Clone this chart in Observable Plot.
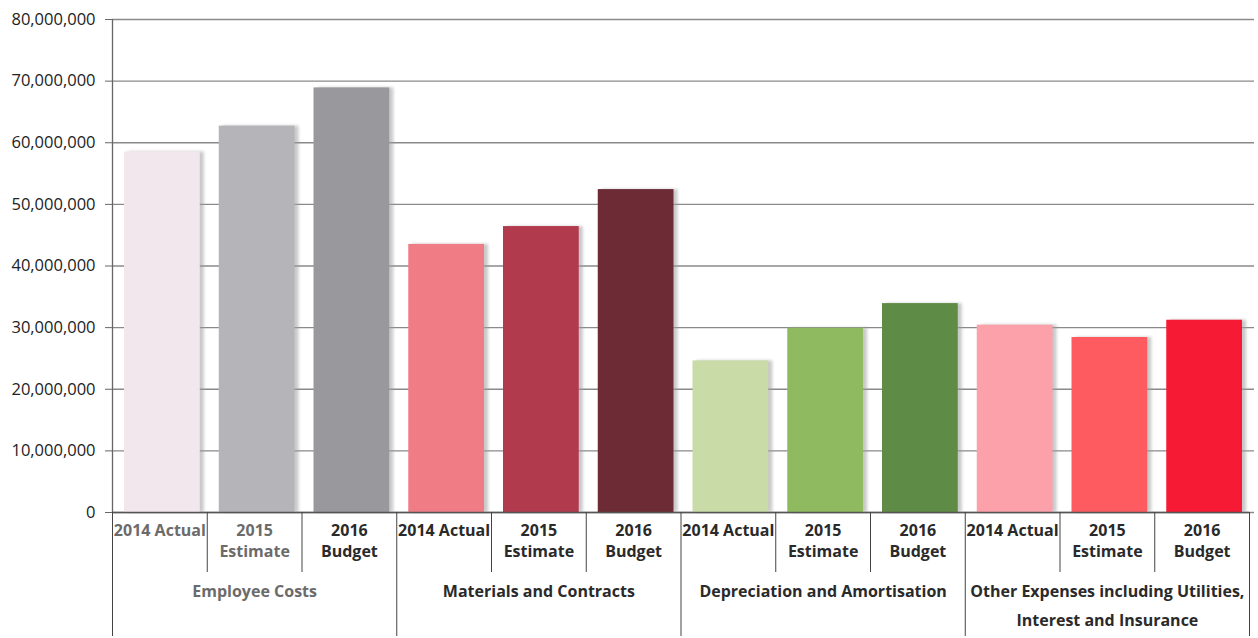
<!DOCTYPE html>
<html>
<head>
<meta charset="utf-8">
<script src="https://cdn.jsdelivr.net/npm/d3@7"></script>
<script src="https://cdn.jsdelivr.net/npm/@observablehq/plot@0.6"></script>
<style>
  html, body { margin: 0; padding: 0; background: #ffffff; }
  #chart svg { display: block; }
</style>
</head>
<body>
<div id="chart"></div>
<script>
// ---- data ----
const groups = [
  "Employee Costs",
  "Materials and Contracts",
  "Depreciation and Amortisation",
  "Other Expenses including Utilities,\nInterest and Insurance"
];
const yearLabels = ["2014 Actual", "2015\nEstimate", "2016\nBudget"];
const employeeCosts = [58500000, 62700000, 68900000];
const materialsContracts = [43500000, 46400000, 52400000];
const depreciationAmortisation = [24600000, 29900000, 33900000];
const otherExpenses = [30400000, 28400000, 31200000];
const yTicks = [0, 10000000, 20000000, 30000000, 40000000, 50000000, 60000000, 70000000, 80000000];

// palette (one colour per bar)
const barColors = [
  "#f3e7ee", "#b5b4b8", "#99989c",
  "#f07d86", "#b13a4d", "#6c2b35",
  "#c9dca8", "#8fba60", "#5e8c46",
  "#fca0aa", "#fe5b60", "#f61a35"
];

// ---- table built from the arrays ----
const series = [employeeCosts, materialsContracts, depreciationAmortisation, otherExpenses];
const rows = series.flatMap((vals, g) =>
  vals.map((v, k) => ({group: g, year: k, slot: g * yearLabels.length + k, value: v}))
);
const nSlots = rows.length;
const groupEdges = d3.range(0, nSlots + 1, yearLabels.length);
const innerEdges = d3.range(1, nSlots).filter(i => i % yearLabels.length !== 0);

const dark = "#2a2a2a";
const grey = "#6b6b6b";

const chart = Plot.plot({
  width: 1258,
  height: 638,
  marginLeft: 112,
  marginRight: 9,
  marginTop: 19,
  marginBottom: 126,
  style: {fontFamily: "'Open Sans', sans-serif", fontSize: "16px", color: "#222", background: "#fff"},
  x: {type: "linear", domain: [0, nSlots], axis: null},
  y: {domain: [0, 80000000], axis: null},
  color: {type: "identity"},
  marks: [
    Plot.gridY(yTicks, {stroke: "#8a8a8a", strokeOpacity: 1, strokeWidth: 1.3, insetRight: -5}),
    // bar shadow
    Plot.rectY(rows, {
      x1: "slot", x2: d => d.slot + 1, y: "value",
      insetLeft: 16, insetRight: 3,
      fill: "#9c9c9c", fillOpacity: 0.55, imageFilter: "blur(1.5px)"
    }),
    Plot.rectY(rows, {
      x1: "slot", x2: d => d.slot + 1, y: "value",
      insetLeft: 12, insetRight: 7,
      fill: d => barColors[d.slot]
    }),
    Plot.ruleX([0], {stroke: "#666", strokeWidth: 1.3}),
    Plot.ruleY([0], {stroke: "#555", strokeWidth: 1.3}),
    Plot.axisY(yTicks, {
      anchor: "left",
      tickSize: 7, tickPadding: 10,
      tickFormat: d3.format(","),
      stroke: "#666", fill: "#222",
      fontSize: 16.5, label: null
    }),
    // separators below the axis
    Plot.axisX(innerEdges, {anchor: "bottom", tickSize: 60, stroke: "#444", fill: "none", label: null}),
    Plot.axisX(groupEdges, {anchor: "bottom", tickSize: 124, stroke: "#444", fill: "none", label: null}),
    // year labels
    Plot.text(rows, {
      x: d => d.slot + 0.5,
      text: d => yearLabels[d.year],
      frameAnchor: "bottom",
      lineAnchor: "top",
      dy: 8,
      lineHeight: 1.33,
      fontSize: 16,
      fontWeight: "bold",
      fill: d => (d.slot < 2 ? grey : dark)
    }),
    // group labels
    Plot.text(groups, {
      x: (d, i) => i * yearLabels.length + yearLabels.length / 2,
      text: d => d,
      frameAnchor: "bottom",
      lineAnchor: "top",
      dy: 64,
      lineHeight: 1.8,
      fontSize: 16,
      fontWeight: "bold",
      fill: (d, i) => (i === 0 ? grey : dark)
    })
  ]
});

document.getElementById("chart").appendChild(chart);
</script>
</body>
</html>
